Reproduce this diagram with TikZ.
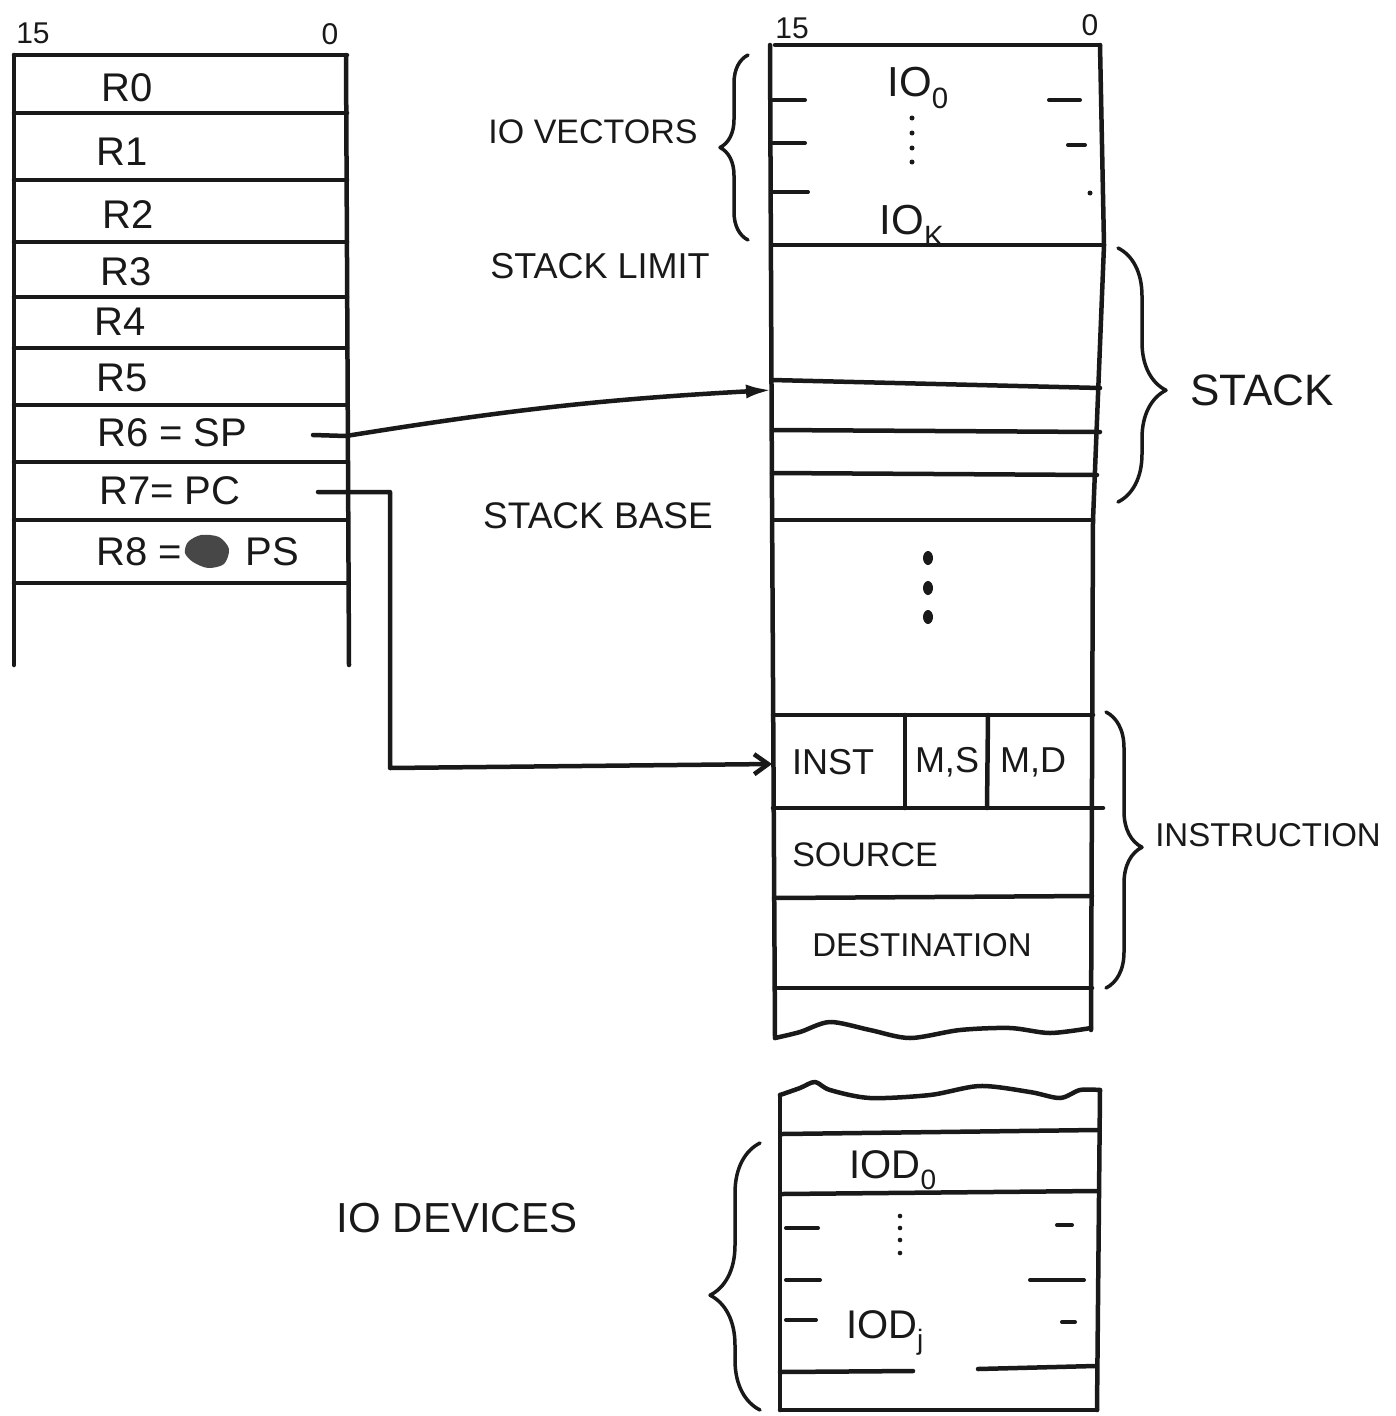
\documentclass[tikz,border=0pt]{standalone}
\usepackage{fontspec}
\setmainfont{Liberation Sans}
\usetikzlibrary{arrows.meta,decorations.pathreplacing}
\newcommand\myfs[1]{\fontsize{#1}{#1}\selectfont}
\begin{document}
\begin{tikzpicture}[x=1pt,y=-1pt,line cap=round,line join=round,
  ink/.style={line width=4.5pt,draw=black!90},
  tick/.style={line width=4pt,draw=black!90},
  txt/.style={inner sep=0pt,font=\myfs{40},text=black!90},
  brc/.style={decorate,decoration={brace,amplitude=#1},line width=3.5pt,draw=black!90},
  brcasp/.style 2 args={decorate,decoration={brace,amplitude=#1,aspect=#2},line width=3.5pt,draw=black!90},
  dot/.style={fill=black!90,draw=none}]
\useasboundingbox (0,0) rectangle (1395,1416);
\fill[white] (0,0) rectangle (1395,1416);

% ---------------- register file ----------------
\draw[ink] (14,55) -- (14,665);
\draw[ink] (346,55) -- (349,665);
\foreach \y in {55,113,180,242,297,348,405,462,520,583}
  \draw[ink] (14,\y) -- (347,\y);

\node[txt,font=\myfs{30}] (l15) at (33,33) {15};
\node[txt,font=\myfs{30}] (l0) at (330,34) {0};
\node[txt] (R0) at (127,88) {R0};
\node[txt] (R1) at (122,152) {R1};
\node[txt] (R2) at (128,215) {R2};
\node[txt] (R3) at (126,272) {R3};
\node[txt] (R4) at (120,322) {R4};
\node[txt] (R5) at (122,378) {R5};
\node[txt,anchor=west] (R6) at (97,433) {R6 = SP};
\node[txt,anchor=west] (R7) at (99,491) {R7= PC};
\node[txt,anchor=west] (R8) at (96,552) {R8 =};
\fill[black!72] plot[smooth cycle] coordinates {(188,542)(201,535)(219,537)(229,549)(224,564)(208,568)(193,562)(185,553)};
\node[txt] (PS) at (272,552) {PS};

% ---------------- memory column ----------------
\draw[ink] (770,45) -- (772,500) -- (775,1038);
\draw[ink] (1100,45) -- (1104,245) -- (1093,520) -- (1091,1030);
\draw[ink] (775,45) -- (1100,45);
\draw[ink] (772,245) -- (1104,245);
\draw[ink] (772,380) -- (1100,388);
\draw[ink] (772,430) -- (1100,432);
\draw[ink] (772,473) -- (1097,475);
\draw[ink] (773,520) -- (1093,520);
\draw[ink] (773,715) -- (1093,715);
\draw[ink] (773,808) -- (1103,808);
\draw[ink] (774,898) -- (1092,896);
\draw[ink] (775,988) -- (1092,988);
\draw[ink] (905,715) -- (905,808);
\draw[ink] (988,715) -- (987,808);
\draw[ink] plot[smooth] coordinates {(775,1038)(800,1032)(830,1022)(870,1030)(910,1038)(960,1030)(1010,1028)(1050,1033)(1091,1028)};

\node[txt,font=\myfs{30}] (r15) at (792,28) {15};
\node[txt,font=\myfs{30}] (r0) at (1090,25) {0};

% IO vectors area
\draw[tick] (773,100) -- (805,100);
\draw[tick] (773,143) -- (805,143);
\draw[tick] (773,192) -- (808,192);
\draw[tick] (1049,100) -- (1080,100);
\draw[tick] (1068,145) -- (1085,145);
\fill[black!90] (1090,193) circle (2.5);
\node[txt,font=\myfs{42}] (io0) at (918,88) {IO\textsubscript{0}};
\node[txt,font=\myfs{42}] (iok) at (912,226) {IO\textsubscript{K}};
\foreach \y in {118,133,148,162} \fill[black!90] (912,\y) circle (2.5);

% dots
\foreach \y in {558,588,617} \fill[black!90] (928,\y) ellipse (5 and 7);

% instruction
\node[txt,font=\myfs{36}] (inst) at (833,762) {INST};
\node[txt,font=\myfs{36}] (ms) at (947,762) {M,S};
\node[txt,font=\myfs{36}] (md) at (1033,762) {M,D};
\node[txt,font=\myfs{34}] (src) at (865,855) {SOURCE};
\node[txt,font=\myfs{33}] (dst) at (922,945) {DESTINATION};

% ---------------- lower column ----------------
\draw[ink] (780,1095) -- (780,1410);
\draw[ink] (1100,1090) -- (1097,1410);
\draw[ink] plot[smooth] coordinates {(780,1095)(800,1088)(815,1082)(830,1090)(870,1098)(930,1095)(980,1086)(1030,1092)(1060,1098)(1080,1090)(1100,1090)};
\draw[ink] (782,1134) -- (1097,1130);
\draw[ink] (782,1194) -- (1097,1191);
\draw[ink] (780,1372) -- (913,1371);
\draw[ink] (978,1369) -- (1095,1366);
\draw[ink] (780,1410) -- (1097,1410);
\draw[tick] (786,1228) -- (818,1228);
\draw[tick] (786,1280) -- (820,1280);
\draw[tick] (786,1320) -- (816,1320);
\draw[tick] (1057,1225) -- (1072,1225);
\draw[tick] (1030,1280) -- (1084,1280);
\draw[tick] (1062,1322) -- (1075,1322);
\foreach \y in {1216,1228,1240,1253} \fill[black!90] (900,\y) circle (2.3);
\node[txt,font=\myfs{40}] (iod0) at (893,1170) {IOD\textsubscript{0}};
\node[txt,font=\myfs{40}] (iodj) at (885,1333) {IOD\textsubscript{j}};

% ---------------- side labels and braces ----------------
\node[txt,font=\myfs{34}] (iovec) at (593,132) {IO VECTORS};
\node[txt,font=\myfs{36}] (slimit) at (600,266) {STACK LIMIT};
\node[txt,font=\myfs{37}] (sbase) at (598,516) {STACK BASE};
\node[txt,font=\myfs{44}] (stack) at (1262,390) {STACK};
\node[txt,font=\myfs{33}] (instr) at (1268,835) {INSTRUCTION};
\node[txt,font=\myfs{42}] (iodev) at (457,1218) {IO DEVICES};

\draw[brc=28] (748,240) -- (748,55);
\draw[brcasp={48}{0.56}] (1118,248) -- (1118,502);
\draw[brcasp={36}{0.49}] (1106,712) -- (1106,988);
\draw[brcasp={50}{0.43}] (760,1410) -- (760,1143);

% ---------------- connectors ----------------
\coordinate (spsrc) at (313,435);
\coordinate (sptgt) at (772,390);
\coordinate (pcsrc) at (318,492);
\coordinate (pctgt) at (772,764);
\draw[ink,-{Latex[length=26pt,width=14pt]}] (spsrc) -- (346,436) to[bend left=3] (sptgt);
\draw[ink,-{Straight Barb[length=14pt,width=20pt]}] (pcsrc) -- (390,492) -- (390,768) -- (pctgt);
\end{tikzpicture}
\end{document}
